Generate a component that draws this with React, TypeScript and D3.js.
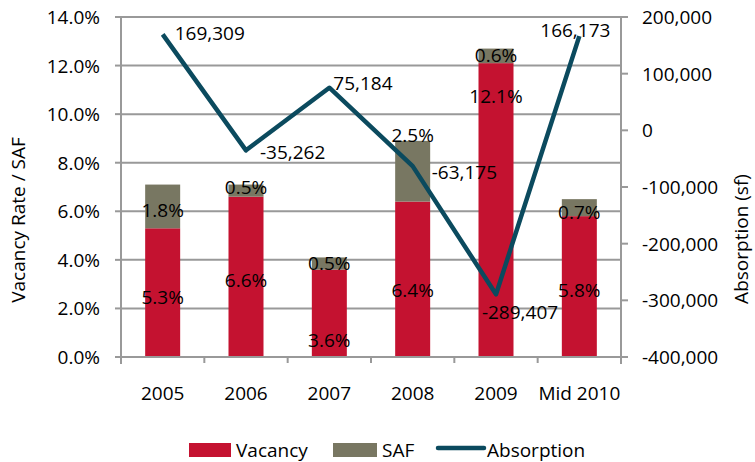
import React from 'react';
import * as d3 from 'd3';

const categories = ['2005', '2006', '2007', '2008', '2009', 'Mid 2010'];
const vacancy = [5.3, 6.6, 3.6, 6.4, 12.1, 5.8];
const saf = [1.8, 0.5, 0.5, 2.5, 0.6, 0.7];
const absorption = [169309, -35262, 75184, -63175, -289407, 166173];
const leftTicks = [0, 2, 4, 6, 8, 10, 12, 14];
const rightTicks = [-400000, -300000, -200000, -100000, 0, 100000, 200000];

// label nudges (px), Excel put them in odd places
const vacLabelDy = [4, 3, 27, 11, -114, 3];
const safLabelDy = [4, -4, -1, -36, -1, 4];
const absLabel = [
  { dx: 12, dy: -1, anchor: 'start' },
  { dx: 14, dy: 2, anchor: 'start' },
  { dx: 4, dy: -5, anchor: 'start' },
  { dx: 19, dy: 6, anchor: 'start' },
  { dx: 24, dy: 18, anchor: 'middle' },
  { dx: -4, dy: -6, anchor: 'middle' },
];

const RED = '#c41230';
const OLIVE = '#787762';
const TEAL = '#0b4a5e';
const GRID = '#999999';
const FONT = '"Open Sans", sans-serif';

export default function App() {
  const width = 755;
  const height = 462;
  const margin = { top: 17, right: 134, bottom: 105, left: 121 };
  const x0 = margin.left;
  const x1 = width - margin.right;
  const y0 = height - margin.bottom;
  const y1 = margin.top;

  const x = d3.scaleBand<string>()
    .domain(categories)
    .range([x0, x1])
    .paddingInner(0.58)
    .paddingOuter(0.29);
  const step = x.step();
  const bw = x.bandwidth();
  const cx = (i: number) => (x(categories[i]) as number) + bw / 2;

  const y = d3.scaleLinear().domain([0, 14]).range([y0, y1]);
  const yr = d3.scaleLinear().domain([-400000, 200000]).range([y0, y1]);

  const pct = d3.format('.1f');
  const fmt = d3.format(',');
  const num = (v: number) => fmt(v).replace('\u2212', '-');

  const line = d3.line<number>()
    .x((d, i) => cx(i))
    .y(d => yr(d));

  return (
    <svg width={width} height={height} style={{ position: 'absolute', left: 0, top: 0 }}
      fontFamily={FONT} fontSize={19}>
      <rect width={width} height={height} fill="#fff" />

      {/* gridlines */}
      {leftTicks.map(t => (
        <line key={'g' + t} x1={x0} x2={x1} y1={y(t)} y2={y(t)} stroke={GRID} strokeWidth={2} />
      ))}

      {/* bars */}
      {categories.map((c, i) => (
        <g key={c}>
          <rect x={x(c)} width={bw} y={y(vacancy[i])} height={y(0) - y(vacancy[i])} fill={RED} />
          <rect x={x(c)} width={bw} y={y(vacancy[i] + saf[i])}
            height={y(vacancy[i]) - y(vacancy[i] + saf[i])} fill={OLIVE} />
        </g>
      ))}

      {/* axes */}
      <line x1={x0} x2={x0} y1={y1} y2={y0 + 7} stroke={GRID} strokeWidth={2} />
      <line x1={x1} x2={x1} y1={y1} y2={y0 + 7} stroke={GRID} strokeWidth={2} />
      <line x1={x0 - 6} x2={x1 + 7} y1={y0} y2={y0} stroke={GRID} strokeWidth={2} />
      {leftTicks.map(t => (
        <g key={'l' + t}>
          <line x1={x0 - 6} x2={x0} y1={y(t)} y2={y(t)} stroke={GRID} strokeWidth={2} />
          <text x={100} y={y(t)} textAnchor="end" dominantBaseline="central">{pct(t)}%</text>
        </g>
      ))}
      {rightTicks.map(t => (
        <g key={'r' + t}>
          <line x1={x1} x2={x1 + 7} y1={yr(t)} y2={yr(t)} stroke={GRID} strokeWidth={2} />
          <text x={642} y={yr(t)} dominantBaseline="central">{num(t)}</text>
        </g>
      ))}
      {categories.map((c, i) => (
        <g key={'c' + c}>
          <line x1={x0 + step * (i + 1)} x2={x0 + step * (i + 1)} y1={y0} y2={y0 + 6}
            stroke={GRID} strokeWidth={2} />
          <text x={cx(i)} y={393} textAnchor="middle" dominantBaseline="central">{c}</text>
        </g>
      ))}

      {/* bar labels */}
      {categories.map((c, i) => (
        <g key={'bl' + c} textAnchor="middle" dominantBaseline="central">
          <text x={cx(i)} y={y(vacancy[i] / 2) + vacLabelDy[i]}>{pct(vacancy[i])}%</text>
          <text x={cx(i)} y={y(vacancy[i] + saf[i] / 2) + safLabelDy[i]}>{pct(saf[i])}%</text>
        </g>
      ))}

      {/* absorption line */}
      <path d={line(absorption) as string} fill="none" stroke={TEAL} strokeWidth={4.5}
        strokeLinejoin="round" />
      {absorption.map((v, i) => (
        <text key={'a' + i} x={cx(i) + absLabel[i].dx} y={yr(v) + absLabel[i].dy}
          textAnchor={absLabel[i].anchor} dominantBaseline="central">{num(v)}</text>
      ))}

      {/* axis titles */}
      <text transform={`translate(18,${(y0 + y1) / 2 + 33}) rotate(-90)`} textAnchor="middle"
        dominantBaseline="central">Vacancy Rate / SAF</text>
      <text transform={`translate(741,${(y0 + y1) / 2 + 52}) rotate(-90)`} textAnchor="middle"
        dominantBaseline="central">Absorption  (sf)</text>

      {/* legend */}
      <g>
        <rect x={189} y={443} width={42} height={14} fill={RED} />
        <text x={236} y={450} dominantBaseline="central">Vacancy</text>
        <rect x={333} y={443} width={44} height={14} fill={OLIVE} />
        <text x={382} y={450} dominantBaseline="central">SAF</text>
        <line x1={438} x2={484} y1={448} y2={448} stroke={TEAL} strokeWidth={4.5} strokeLinecap="round" />
        <text x={487} y={450} dominantBaseline="central">Absorption</text>
      </g>
    </svg>
  );
}
